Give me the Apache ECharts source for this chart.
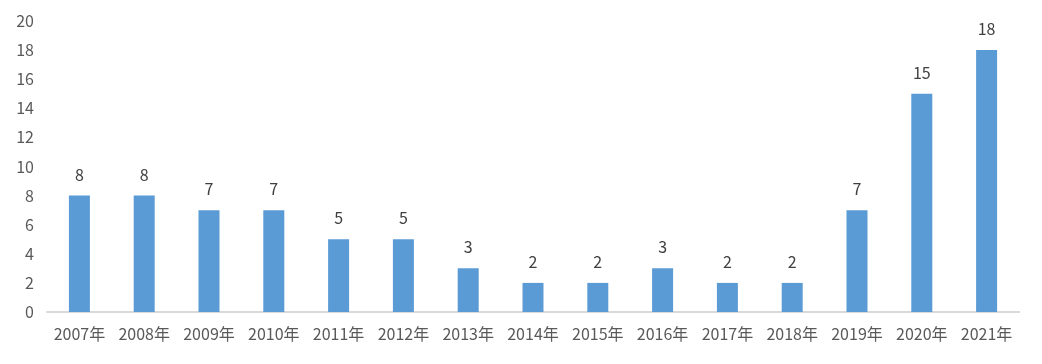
<!DOCTYPE html>
<html><head><meta charset="utf-8">
<script src="https://cdn.jsdelivr.net/npm/echarts@6/dist/echarts.min.js"></script>
<style>html,body{margin:0;padding:0;background:#fff}#c{width:1042px;height:364px}</style>
</head><body><div id="c"></div>
<script>
const categories = ['2007年','2008年','2009年','2010年','2011年','2012年','2013年','2014年','2015年','2016年','2017年','2018年','2019年','2020年','2021年'];
const values = [8,8,7,7,5,5,3,2,2,3,2,2,7,15,18];
const font = '"Noto Sans CJK SC", "Noto Sans", sans-serif';
const chart = echarts.init(document.getElementById('c'));
chart.setOption({
  animation:false,
  grid:{left:47,right:23,top:21,bottom:52,containLabel:false},
  xAxis:{type:'category',data:categories,
    axisLine:{lineStyle:{color:'#d9d9d9',width:2}},
    axisTick:{show:false},
    axisLabel:{color:'#595959',fontSize:16,fontFamily:font,margin:14,interval:0}},
  yAxis:{type:'value',min:0,max:20,interval:2,
    axisLine:{show:false},axisTick:{show:false},splitLine:{show:false},
    axisLabel:{color:'#595959',fontSize:16,fontFamily:font,margin:13}},
  series:[{type:'bar',data:values,barWidth:21,
    itemStyle:{color:'#5b9bd5'},
    label:{show:true,position:'top',distance:13,color:'#404040',fontSize:16,fontFamily:font}}]
});
</script></body></html>
